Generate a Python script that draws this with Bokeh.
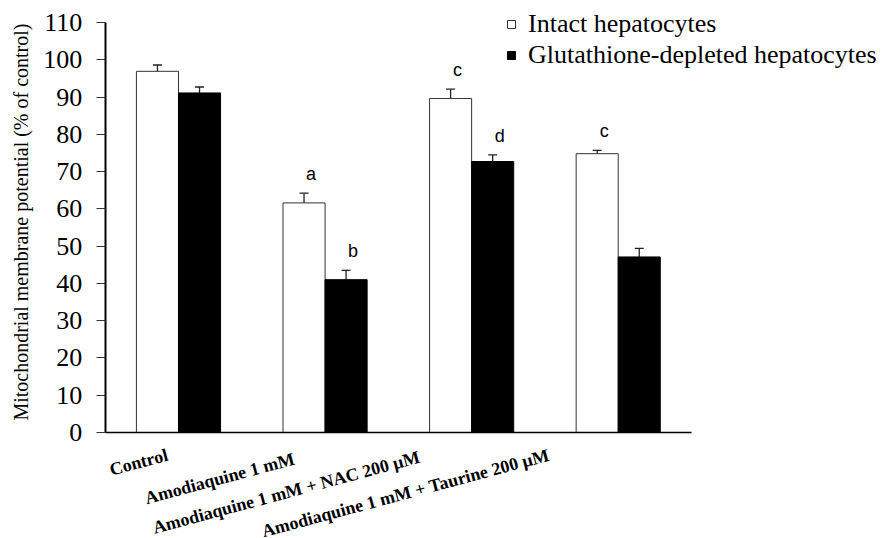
from bokeh.plotting import figure
from bokeh.models import (ColumnDataSource, Range1d, FixedTicker, Whisker, TeeHead,
                          Label, Legend, LegendItem)
from bokeh.core.properties import value
from bokeh.embed import file_html
from bokeh.resources import INLINE

# ---- data ----
categories = ["Control", "Amodiaquine 1 mM", "Amodiaquine 1 mM  + NAC 200 \u03bcM",
              "Amodiaquine 1 mM  + Taurine 200 \u03bcM"]
series_names = ["Intact hepatocytes", "Glutathione-depleted hepatocytes"]
intact = [96.9, 61.6, 89.6, 74.8]
intact_err = [1.7, 2.6, 2.5, 0.9]
depleted = [91.1, 41.0, 72.7, 47.1]
depleted_err = [1.6, 2.5, 1.8, 2.3]
intact_letters = ["", "a", "c", "c"]
depleted_letters = ["", "b", "d", ""]
y_ticks = [0, 10, 20, 30, 40, 50, 60, 70, 80, 90, 100, 110]
y_title = "Mitochondrial  membrane  potential (% of control)"

SERIF = "Liberation Serif"
SANS = "Liberation Sans"
BAR_W = 0.287

# ---- layout (pixels) ----
W, H = 889, 538
AX_LEFT, AX_RIGHT = 104.7, 691.0      # pixel x of category 0 and 4
AX_TOP, AX_BOTTOM = 22.0, 432.0       # pixel y of 110 and 0
n = len(categories)
ux = (AX_RIGHT - AX_LEFT) / n
uy = (AX_BOTTOM - AX_TOP) / 110.0
x_range = Range1d(-AX_LEFT / ux, (W - AX_LEFT) / ux)
y_range = Range1d(-(H - AX_BOTTOM) / uy, 110 + AX_TOP / uy)

centers = [i + 0.5 for i in range(n)]
x_int = [c - BAR_W / 2 for c in centers]
x_dep = [c + BAR_W / 2 for c in centers]

src_i = ColumnDataSource(dict(x=x_int, top=intact,
                              upper=[v + e for v, e in zip(intact, intact_err)],
                              lower=[v - e for v, e in zip(intact, intact_err)],
                              letter=intact_letters))
src_d = ColumnDataSource(dict(x=x_dep, top=depleted,
                              upper=[v + e for v, e in zip(depleted, depleted_err)],
                              lower=[v - e for v, e in zip(depleted, depleted_err)],
                              letter=depleted_letters))

p = figure(width=W, height=H, output_backend="svg", toolbar_location=None,
           x_range=x_range, y_range=y_range,
           min_border_left=0, min_border_top=0, min_border_right=0,
           min_border_bottom=0)
p.outline_line_color = None
p.xgrid.visible = False
p.ygrid.visible = False
p.background_fill_color = "white"

r1 = p.vbar(x="x", top="top", bottom=0, width=BAR_W, source=src_i,
            fill_color="white", line_color="#333333", line_width=1)
r2 = p.vbar(x="x", top="top", bottom=0, width=BAR_W, source=src_d,
            fill_color="black", line_color="black", line_width=1)

for src in (src_i, src_d):
    w = Whisker(base="x", upper="upper", lower="lower", source=src,
                line_color="#222222", line_width=1.3,
                upper_head=TeeHead(size=9, line_color="#222222", line_width=1.3),
                lower_head=TeeHead(size=9, line_color="#222222", line_width=1.3))
    p.add_layout(w)
    p.text(x="x", y="upper", text="letter", source=src, x_offset=7, y_offset=-19,
           text_align="center", text_baseline="middle",
           text_font=value(SANS), text_font_size="18px", text_color="black")

# axes (drawn at fixed data locations inside the frame)
yax = p.yaxis[0]
yax.fixed_location = 0
yax.bounds = (0, 110)
yax.ticker = FixedTicker(ticks=y_ticks)
yax.axis_line_width = 2
yax.axis_line_color = "black"
yax.major_tick_out = 9
yax.major_tick_in = 0
yax.major_tick_line_color = "#333333"
yax.major_tick_line_width = 1.2
yax.minor_tick_line_color = None
yax.major_label_standoff = 14
yax.major_label_text_font = SERIF
yax.major_label_text_font_size = "26px"
yax.major_label_text_color = "black"

xax = p.xaxis[0]
xax.fixed_location = 0
xax.bounds = (0, n)
xax.ticker = FixedTicker(ticks=[])
xax.axis_line_width = 1.5
xax.axis_line_color = "black"
xax.major_tick_line_color = None
xax.minor_tick_line_color = None
xax.major_label_text_font_size = "0px"

# rotated category labels
x_offsets = [-11, -31, -48, -65]
y_offsets = [-22, -26, -23, -21]
for c, name, xo, yo in zip(centers, categories, x_offsets, y_offsets):
    p.add_layout(Label(x=c, y=0, text=name, x_offset=xo, y_offset=yo,
                       angle=15, angle_units="deg", text_align="right",
                       text_baseline="middle", text_font=SERIF,
                       text_font_style="bold", text_font_size="18px",
                       text_color="black"))

# y-axis title
p.add_layout(Label(x=0, y=57.8, text=y_title, x_offset=-84, angle=90,
                   angle_units="deg", text_align="center", text_baseline="middle",
                   text_font=SERIF, text_font_size="20px", text_color="black"))

legend = Legend(items=[LegendItem(label=series_names[0], renderers=[r1]),
                       LegendItem(label=series_names[1], renderers=[r2])],
                location=(506, 468), glyph_width=10, glyph_height=10,
                label_standoff=12, spacing=1, padding=0, margin=0,
                border_line_color=None, background_fill_alpha=0,
                label_text_font=SERIF, label_text_font_size="26px",
                label_text_color="black")
p.add_layout(legend)

open("out.html", "w").write(file_html(p, INLINE))
